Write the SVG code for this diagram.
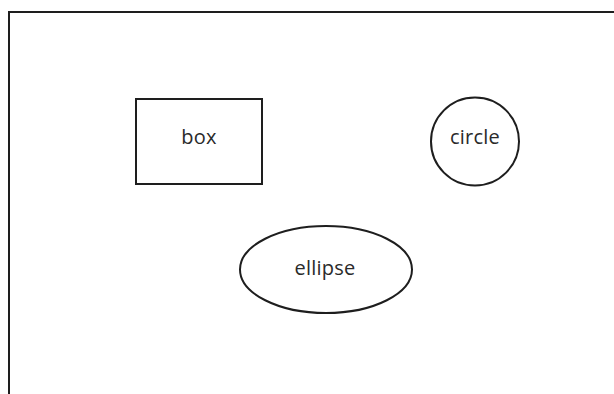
<svg xmlns="http://www.w3.org/2000/svg" width="614" height="394" viewBox="0 0 614 394">
  <style>
    .shape { fill: none; stroke: #1e1e1e; stroke-width: 2; }
    .label { font-family: "Open Sans", "Noto Sans", sans-serif; font-size: 20px; fill: #2a2a2a; text-anchor: middle; letter-spacing: 0.2px; }
  </style>
  <rect width="614" height="394" fill="#ffffff"/>
  <!-- outer frame: top and left edges -->
  <path class="shape" d="M9,394 V12 H614"/>
  <g id="box">
    <rect class="shape" x="136" y="99" width="126" height="85"/>
    <text class="label" x="199" y="144">box</text>
  </g>
  <g id="circle">
    <circle class="shape" cx="475" cy="141.5" r="44"/>
    <text class="label" x="475" y="144">circle</text>
  </g>
  <g id="ellipse">
    <ellipse class="shape" cx="326" cy="269.5" rx="86" ry="43.5"/>
    <text class="label" x="325" y="275">ellipse</text>
  </g>
  <g id="connectors"/>
</svg>
